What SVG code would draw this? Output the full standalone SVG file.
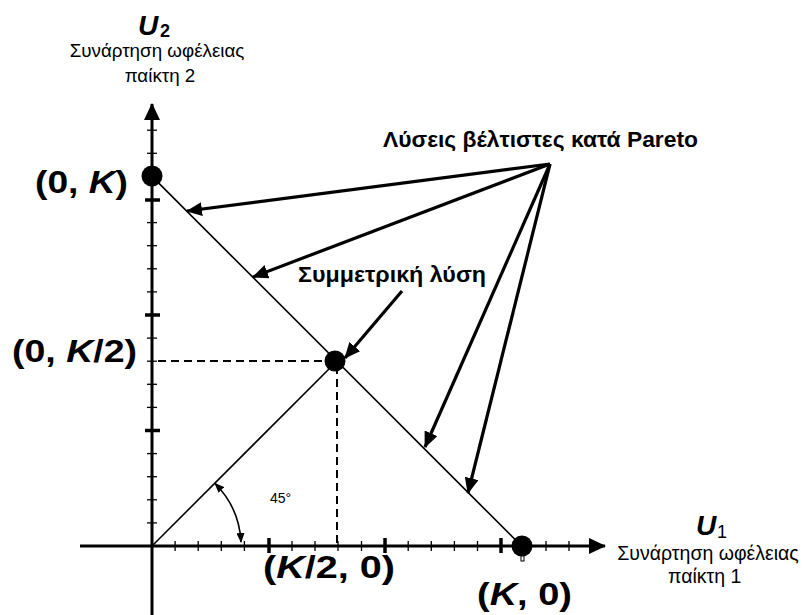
<svg xmlns="http://www.w3.org/2000/svg" width="803" height="615" viewBox="0 0 803 615">
<defs>
<marker id="ah" markerUnits="userSpaceOnUse" markerWidth="18" markerHeight="14" refX="15" refY="7" orient="auto"><path d="M0,0 L16,7 L0,14 Z" fill="#000"/></marker>
<marker id="axh" markerUnits="userSpaceOnUse" markerWidth="18" markerHeight="16" refX="16" refY="8" orient="auto"><path d="M0,0 L17,8 L0,16 Z" fill="#000"/></marker>
<marker id="sm" markerUnits="userSpaceOnUse" markerWidth="10" markerHeight="8" refX="9" refY="4" orient="auto-start-reverse"><path d="M0,0 L10,4 L0,8 Z" fill="#000"/></marker>
<style>
.ax{stroke:#000;stroke-width:3;fill:none}
.tk{stroke:#000;stroke-width:1.3}
.mj{stroke:#000;stroke-width:3.5}
.ln{stroke:#000;stroke-width:1.6;fill:none}
.ds{stroke:#000;stroke-width:2;stroke-dasharray:8,5;fill:none}
.ar{stroke:#000;stroke-width:3.2;fill:none;marker-end:url(#ah)}
.pt{fill:#000}
.lb{font-family:"Liberation Sans",Arial,sans-serif;font-weight:bold;font-size:32px;fill:#000}
.sub{font-family:"Liberation Sans",Arial,sans-serif;fill:#000}
.nt{font-family:"Liberation Sans",Arial,sans-serif;font-weight:bold;font-size:22px;fill:#000}
</style>
</defs>
<g id="axes">
<line class="ax" x1="152" y1="615" x2="152" y2="104" marker-end="url(#axh)"/>
<line class="ax" x1="80" y1="546" x2="605" y2="546" marker-end="url(#axh)"/>
<g id="xticks">
<line class="tk" x1="175.1" y1="541" x2="175.1" y2="551"/>
<line class="tk" x1="198.2" y1="541" x2="198.2" y2="551"/>
<line class="tk" x1="221.3" y1="541" x2="221.3" y2="551"/>
<line class="tk" x1="244.4" y1="541" x2="244.4" y2="551"/>
<line class="mj" x1="269" y1="538" x2="269" y2="553"/>
<line class="tk" x1="292" y1="541" x2="292" y2="551"/>
<line class="tk" x1="315" y1="541" x2="315" y2="551"/>
<line class="tk" x1="338" y1="541" x2="338" y2="551"/>
<line class="tk" x1="361.5" y1="541" x2="361.5" y2="551"/>
<line class="mj" x1="385" y1="538" x2="385" y2="553"/>
<line class="tk" x1="408.2" y1="541" x2="408.2" y2="551"/>
<line class="tk" x1="431.3" y1="541" x2="431.3" y2="551"/>
<line class="tk" x1="454.4" y1="541" x2="454.4" y2="551"/>
<line class="tk" x1="477.5" y1="541" x2="477.5" y2="551"/>
<line class="mj" x1="501" y1="538" x2="501" y2="553"/>
<line class="tk" x1="546" y1="541" x2="546" y2="551"/>
<line class="tk" x1="569" y1="541" x2="569" y2="551"/>
</g>
<g id="yticks">
<line class="tk" x1="147" y1="522.9" x2="157" y2="522.9"/>
<line class="tk" x1="147" y1="499.8" x2="157" y2="499.8"/>
<line class="tk" x1="147" y1="476.7" x2="157" y2="476.7"/>
<line class="tk" x1="147" y1="453.6" x2="157" y2="453.6"/>
<line class="mj" x1="145" y1="430.5" x2="160" y2="430.5"/>
<line class="tk" x1="147" y1="407.4" x2="157" y2="407.4"/>
<line class="tk" x1="147" y1="384.3" x2="157" y2="384.3"/>
<line class="tk" x1="147" y1="361.2" x2="157" y2="361.2"/>
<line class="tk" x1="147" y1="338.1" x2="157" y2="338.1"/>
<line class="mj" x1="145" y1="315" x2="160" y2="315"/>
<line class="tk" x1="147" y1="291.9" x2="157" y2="291.9"/>
<line class="tk" x1="147" y1="268.8" x2="157" y2="268.8"/>
<line class="tk" x1="147" y1="245.7" x2="157" y2="245.7"/>
<line class="tk" x1="147" y1="222.6" x2="157" y2="222.6"/>
<line class="mj" x1="145" y1="200" x2="160" y2="200"/>
<line class="tk" x1="147" y1="153.3" x2="157" y2="153.3"/>
<line class="tk" x1="147" y1="130.2" x2="157" y2="130.2"/>
</g>
</g>
<g id="frontier">
<line class="ln" x1="152" y1="176.4" x2="521.6" y2="546"/>
<line class="ln" x1="152" y1="546" x2="336.5" y2="361.5"/>
<path class="ds" d="M158,361 H330"/>
<path class="ds" d="M337,366 V544"/>
</g>
<g id="angle">
<path class="ln" d="M241,542 A89,89 0 0 0 215,483.5" marker-start="url(#sm)" marker-end="url(#sm)"/>
<text class="sub" x="270" y="503" font-size="14">45°</text>
</g>
<g id="point-0K"><circle class="pt" cx="152" cy="176" r="10.5"/><text class="lb" x="35" y="193" textLength="93" lengthAdjust="spacingAndGlyphs">(0, <tspan font-style="italic">K</tspan>)</text></g>
<g id="point-mid"><circle class="pt" cx="335" cy="361" r="10.5"/><text class="lb" x="12" y="362" textLength="125" lengthAdjust="spacingAndGlyphs">(0, <tspan font-style="italic">K</tspan>/2)</text><text class="lb" x="263" y="578" textLength="132" lengthAdjust="spacingAndGlyphs">(<tspan font-style="italic">K</tspan>/2, 0)</text></g>
<g id="point-K0"><circle class="pt" cx="522" cy="546" r="10.5"/><rect x="521" y="556" width="3" height="5" fill="#fff" stroke="#000" stroke-width="1"/><text class="lb" x="477" y="605" textLength="95" lengthAdjust="spacingAndGlyphs">(<tspan font-style="italic">K</tspan>, 0)</text></g>
<g id="label-u2">
<text class="sub" x="138" y="35" font-size="28" font-weight="bold" font-style="italic">U</text><text class="sub" x="160" y="37" font-size="18" font-weight="bold">2</text>
<text class="sub" x="157" y="57" font-size="18.8" text-anchor="middle">Συνάρτηση ωφέλειας</text>
<text class="sub" x="160" y="82" font-size="18.8" text-anchor="middle">παίκτη 2</text>
</g>
<g id="label-u1">
<text class="sub" x="696" y="535" font-size="28" font-weight="bold" font-style="italic">U</text><text class="sub" x="717" y="538" font-size="18">1</text>
<text class="sub" x="708" y="560" font-size="19.5" text-anchor="middle">Συνάρτηση ωφέλειας</text>
<text class="sub" x="668" y="583" font-size="19.5">παίκτη 1</text>
</g>
<g id="label-pareto"><text class="nt" x="383" y="147" textLength="315" lengthAdjust="spacingAndGlyphs">Λύσεις βέλτιστες κατά Pareto</text></g>
<g id="label-sym"><text class="nt" x="298" y="282" textLength="188" lengthAdjust="spacingAndGlyphs">Συμμετρική λύση</text></g>
<g id="connectors">
<line class="ar" x1="550" y1="164" x2="187" y2="211"/>
<line class="ar" x1="550" y1="164" x2="253" y2="277"/>
<line class="ar" x1="550" y1="164" x2="425" y2="447"/>
<line class="ar" x1="550" y1="164" x2="468" y2="493"/>
<line class="ar" x1="402" y1="291" x2="345" y2="358"/>
</g>
</svg>
